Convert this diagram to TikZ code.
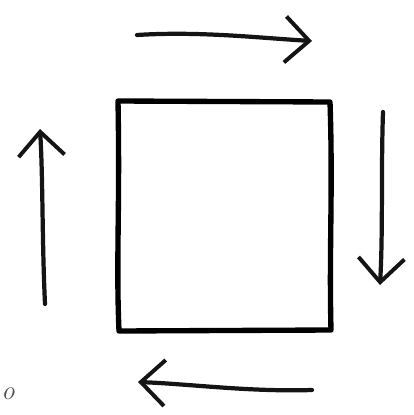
\documentclass[tikz,border=0pt]{standalone}
\usetikzlibrary{positioning, arrows.meta}

\begin{document}
\begin{tikzpicture}[
    x=0.025cm, y=-0.025cm,
    box/.style={draw=black, line width=3.8pt, line join=round},
    flow/.style={-{Straight Barb[length=0.6cm, width=1.15cm, line width=2.8pt]}, line width=3pt, line cap=round, black!92},
    tag/.style={font=\fontsize{19}{20}\selectfont\itshape, text=black!70, inner sep=0pt},
]
\useasboundingbox (0, 0) rectangle (414, 415);

% ========== SQUARE ==========
\draw[box] (118, 101) .. controls (120, 210) and (116, 260) .. (119, 331)
    -- (331, 330) .. controls (329, 250) and (333, 190) .. (330, 102) -- cycle;

% ========== ARROWS (clockwise) ==========
\coordinate (topA) at (137, 35);
\coordinate (topB) at (312, 41);
\coordinate (rgtA) at (383, 112);
\coordinate (rgtB) at (380, 285);
\coordinate (botA) at (312, 390);
\coordinate (botB) at (138, 382);
\coordinate (lftA) at (45, 304);
\coordinate (lftB) at (40, 129);

\draw[flow] (topA) .. controls (200, 31) and (260, 38) .. (topB);
\draw[flow] (rgtA) .. controls (381, 170) and (383, 230) .. (rgtB);
\draw[flow] (botA) .. controls (250, 392) and (190, 384) .. (botB);
\draw[flow] (lftA) .. controls (42, 240) and (43, 180) .. (lftB);

% ========== LABEL ==========
\node[tag] (o) at (8, 394) {o};

\end{tikzpicture}
\end{document}
